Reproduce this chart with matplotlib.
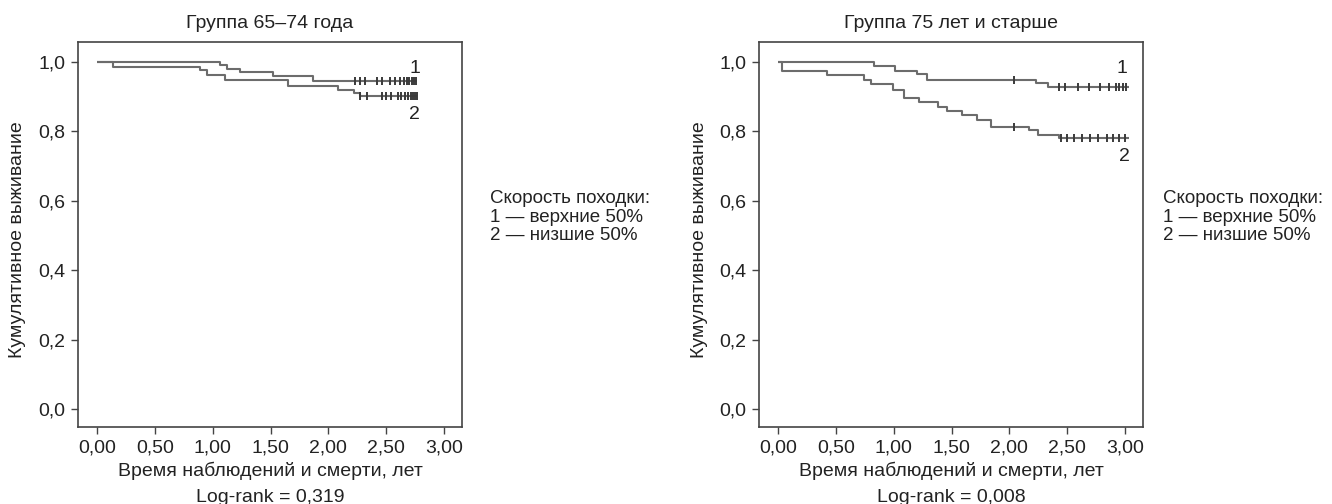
import numpy as np
import matplotlib
matplotlib.use("Agg")
import matplotlib.pyplot as plt

plt.rcParams['font.family'] = ['Liberation Sans', 'DejaVu Sans']

# ---- data ----
titles = ["Группа 65–74 года", "Группа 75 лет и старше"]
logrank = ["Log-rank = 0,319", "Log-rank = 0,008"]
xticks = [0.0, 0.5, 1.0, 1.5, 2.0, 2.5, 3.0]
xticklabels = ["0,00", "0,50", "1,00", "1,50", "2,00", "2,50", "3,00"]
yticks = [0.0, 0.2, 0.4, 0.6, 0.8, 1.0]
yticklabels = ["0,0", "0,2", "0,4", "0,6", "0,8", "1,0"]

# Group 65-74, curve 1 (upper 50%)
g1_c1_t = [0.0, 1.06, 1.12, 1.24, 1.52, 1.87, 2.77]
g1_c1_s = [1.0, 0.992, 0.980, 0.972, 0.959, 0.945, 0.945]
g1_c1_cens = [2.23, 2.27, 2.32, 2.42, 2.46, 2.53, 2.58, 2.62, 2.65, 2.68, 2.70, 2.72, 2.74, 2.76]
# Group 65-74, curve 2 (lower 50%)
g1_c2_t = [0.0, 0.14, 0.89, 0.95, 1.11, 1.65, 2.08, 2.22, 2.27, 2.77]
g1_c2_s = [1.0, 0.986, 0.976, 0.963, 0.948, 0.930, 0.921, 0.912, 0.902, 0.902]
g1_c2_cens = [2.27, 2.33, 2.46, 2.50, 2.54, 2.60, 2.63, 2.66, 2.69, 2.71, 2.73, 2.75, 2.77]

# Group 75+, curve 1
g2_c1_t = [0.0, 0.83, 1.01, 1.20, 1.29, 2.23, 2.33, 3.03]
g2_c1_s = [1.0, 0.990, 0.975, 0.965, 0.949, 0.939, 0.927, 0.927]
g2_c1_cens = [2.04, 2.43, 2.48, 2.59, 2.69, 2.78, 2.86, 2.92, 2.95, 2.98, 3.01]
# Group 75+, curve 2
g2_c2_t = [0.0, 0.035, 0.42, 0.74, 0.80, 0.99, 1.09, 1.22, 1.38, 1.46, 1.59,
           1.72, 1.84, 2.17, 2.25, 2.43, 3.03]
g2_c2_s = [1.0, 0.973, 0.963, 0.949, 0.936, 0.920, 0.896, 0.884, 0.872, 0.859,
           0.848, 0.833, 0.814, 0.804, 0.791, 0.780, 0.780]
g2_c2_cens = [2.04, 2.45, 2.50, 2.56, 2.63, 2.70, 2.77, 2.84, 2.90, 2.95, 3.00]

groups = [
    [(g1_c1_t, g1_c1_s, g1_c1_cens), (g1_c2_t, g1_c2_s, g1_c2_cens)],
    [(g2_c1_t, g2_c1_s, g2_c1_cens), (g2_c2_t, g2_c2_s, g2_c2_cens)],
]
curve_labels = [[("1", 2.70, 0.982), ("2", 2.70, 0.85)],
                [("1", 2.93, 0.982), ("2", 2.95, 0.727)]]

legend_title = "Скорость походки:"
legend_items = ["1 — верхние 50%", "2 — низшие 50%"]
xlabel = "Время наблюдений и смерти, лет"
ylabel = "Кумулятивное выживание"

W, H = 1332, 504
FS = 14
TXT = "#222222"
fig = plt.figure(figsize=(W / 100, H / 100), dpi=100)

ax_lefts = [78, 759]
ylabel_x = [18, 700]
line_color = "#6c6c6c"
cens_color = "#3a3a3a"

for i in range(2):
    ax = fig.add_axes([ax_lefts[i] / W, 1 - 427 / H, 384 / W, 385 / H])
    for (t, s, cens) in groups[i]:
        ax.step(t, s, where="post", color=line_color, lw=1.5, solid_capstyle="butt")
        t_arr = np.array(t)
        s_arr = np.array(s)
        idx = np.searchsorted(t_arr, np.array(cens), side="right") - 1
        ax.plot(cens, s_arr[idx], linestyle="none", marker="|", markersize=6,
                markeredgewidth=1.4, color=cens_color)
    for (lab, lx, ly) in curve_labels[i]:
        ax.text(lx, ly, lab, fontsize=FS, ha="left", va="center", color=TXT)
    ax.set_xlim(-0.164, 3.155)
    ax.set_ylim(-0.052, 1.058)
    ax.set_xticks(xticks)
    ax.set_xticklabels(xticklabels)
    ax.set_yticks(yticks)
    ax.set_yticklabels(yticklabels)
    ax.tick_params(direction="out", length=5, width=1, color="#444444",
                   labelsize=FS, labelcolor=TXT, pad=4)
    for sp in ax.spines.values():
        sp.set_color("#444444")
        sp.set_linewidth(1.2)
    cx = (ax_lefts[i] + 192) / W
    fig.text(cx, 1 - 23 / H, titles[i], fontsize=FS, ha="center", va="center", color=TXT)
    fig.text(cx, 1 - 471 / H, xlabel, fontsize=FS, ha="center", va="center", color=TXT)
    fig.text(cx, 1 - 498 / H, logrank[i], fontsize=FS, ha="center", va="center", color=TXT)
    fig.text(ylabel_x[i] / W, 1 - 240 / H, ylabel, fontsize=FS, ha="center",
             va="center", rotation=90, color=TXT)

legend_x = [490, 1163]
for lx in legend_x:
    fig.text(lx / W, 1 - 199 / H, legend_title, fontsize=13.5, ha="left",
             va="center", color=TXT)
    fig.text(lx / W, 1 - 218 / H, legend_items[0], fontsize=13.5, ha="left",
             va="center", color=TXT)
    fig.text(lx / W, 1 - 236 / H, legend_items[1], fontsize=13.5, ha="left",
             va="center", color=TXT)

fig.savefig("out.png", dpi=100)
